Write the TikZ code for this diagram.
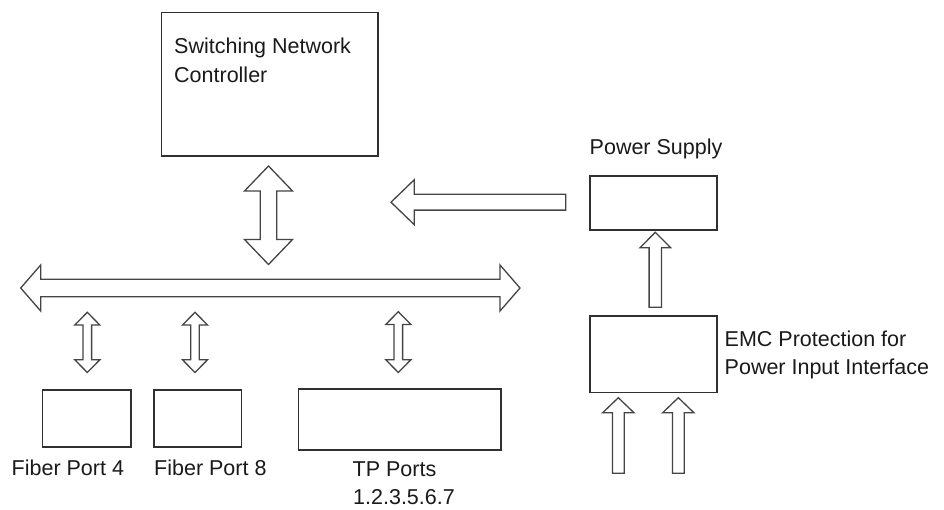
\documentclass[tikz,border=0pt]{standalone}
\usepackage{fontspec}
\setmainfont{Liberation Sans}
\definecolor{boxline}{HTML}{303030}
\definecolor{arrline}{HTML}{454545}
\definecolor{txt}{HTML}{1A1A1A}
\newcommand\VDArrow[6]{% cx, ytop, ybot, headhalf, shafthalf, headlen
  \draw[blockarrow] (#1,#2) -- (#1+#4,#2+#6) -- (#1+#5,#2+#6) -- (#1+#5,#3-#6) -- (#1+#4,#3-#6) -- (#1,#3)
    -- (#1-#4,#3-#6) -- (#1-#5,#3-#6) -- (#1-#5,#2+#6) -- (#1-#4,#2+#6) -- cycle;}
\newcommand\UArrow[6]{% cx, ytip, ybot, headhalf, shafthalf, headlen
  \draw[blockarrow] (#1,#2) -- (#1+#4,#2+#6) -- (#1+#5,#2+#6) -- (#1+#5,#3) -- (#1-#5,#3)
    -- (#1-#5,#2+#6) -- (#1-#4,#2+#6) -- cycle;}
\newcommand\HDArrow[6]{% cy, xleft, xright, headhalf, shafthalf, headlen
  \draw[blockarrow] (#2,#1) -- (#2+#6,#1-#4) -- (#2+#6,#1-#5) -- (#3-#6,#1-#5) -- (#3-#6,#1-#4) -- (#3,#1)
    -- (#3-#6,#1+#4) -- (#3-#6,#1+#5) -- (#2+#6,#1+#5) -- (#2+#6,#1+#4) -- cycle;}
\newcommand\LArrow[6]{% cy, xtip, xtail, headhalf, shafthalf, headlen
  \draw[blockarrow] (#2,#1) -- (#2+#6,#1-#4) -- (#2+#6,#1-#5) -- (#3,#1-#5) -- (#3,#1+#5)
    -- (#2+#6,#1+#5) -- (#2+#6,#1+#4) -- cycle;}
\begin{document}
\begin{tikzpicture}[x=1pt,y=-1pt,
  box/.style={draw=boxline, line width=1.6pt, fill=white, anchor=north west, inner sep=0pt},
  blockarrow/.style={draw=arrline, line width=1.3pt, fill=white, line join=miter},
  lbl/.style={anchor=base west, inner sep=0pt, text=txt, font=\fontsize{21.5}{27}\selectfont}]
\useasboundingbox[fill=white] (0,0) rectangle (944,509);

% boxes
\node[box, minimum width=216.6pt, minimum height=143.3pt] (ctrl) at (160.7,11.7) {};
\node[box, minimum width=126.7pt, minimum height=54pt] (ps) at (589.3,175) {};
\node[box, minimum width=126.7pt, minimum height=76.7pt] (emc) at (589.3,315) {};
\node[box, minimum width=88.3pt, minimum height=56.7pt] (f4) at (41.7,389.3) {};
\node[box, minimum width=87.4pt, minimum height=56.7pt] (f8) at (153.3,389.3) {};
\node[box, minimum width=202.3pt, minimum height=61pt] (tp) at (297.7,388.3) {};

% block arrows
\VDArrow{268.5}{166}{264.5}{24}{8.2}{25}
\HDArrow{288}{20.7}{520}{23}{8.7}{20}
\LArrow{202.2}{391}{565.7}{22.5}{7.9}{23.3}
\VDArrow{87.3}{312.3}{372.5}{12.5}{4.3}{12.7}
\VDArrow{195}{312.3}{372.5}{12.5}{4.3}{12.7}
\VDArrow{398.3}{311.7}{372.5}{12.5}{4.3}{12.7}
\UArrow{655.3}{232.3}{307.3}{15.3}{6.2}{15.4}
\UArrow{618.3}{397.7}{473.3}{15.6}{5.9}{15}
\UArrow{678.3}{397.7}{473.3}{15.6}{5.9}{15}

% labels
\node[lbl] (ctrlA) at (174,53.3) {Switching Network};
\node[lbl] (ctrlB) at (174,82.7) {Controller};
\node[lbl] (psl) at (589.5,154.3) {Power Supply};
\node[lbl] (emcA) at (724.5,346.7) {EMC Protection for};
\node[lbl] (emcB) at (724.5,374) {Power Input Interface};
\node[lbl] (f4l) at (11.5,475) {Fiber Port 4};
\node[lbl] (f8l) at (154,475.5) {Fiber Port 8};
\node[lbl] (tpA) at (352.5,476.7) {TP Ports};
\node[lbl] (tpB) at (353,504) {1.2.3.5.6.7};
\end{tikzpicture}
\end{document}
